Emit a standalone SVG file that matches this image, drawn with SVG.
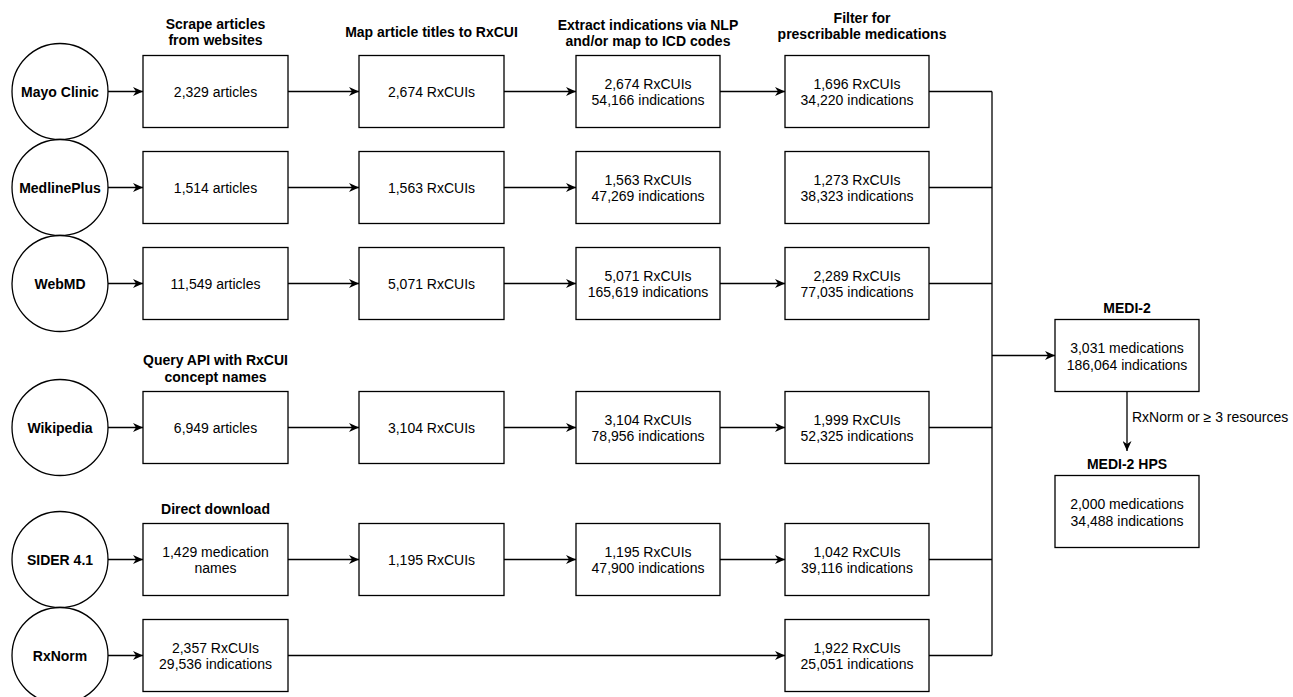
<svg xmlns="http://www.w3.org/2000/svg" width="1293" height="697" viewBox="0 0 1293 697">
<style>
text{font-family:"Liberation Sans",Arial,sans-serif;font-size:14px;fill:#000;text-anchor:middle;dominant-baseline:central}
.b{font-weight:bold}
.box{fill:#fff;stroke:#000;stroke-width:1.3}
.src{fill:#fff;stroke:#000;stroke-width:1.3}
.ln{fill:none;stroke:#000;stroke-width:1.3}
.ar{fill:none;stroke:#000;stroke-width:1.3;marker-end:url(#ah)}
</style>
<defs>
<marker id="ah" markerWidth="11" markerHeight="9" refX="10" refY="4.5" orient="auto" markerUnits="userSpaceOnUse">
<path d="M0,0 L10,4.5 L0,9 L3,4.5 Z" fill="#000"/>
</marker>
</defs>
<rect width="1293" height="697" fill="#fff"/>

<g id="headers">
<text class="b" x="215.5" y="24">Scrape articles</text>
<text class="b" x="215.5" y="40">from websites</text>
<text class="b" x="431.5" y="32">Map article titles to RxCUI</text>
<text class="b" x="648" y="25">Extract indications via NLP</text>
<text class="b" x="648" y="41">and/or map to ICD codes</text>
<text class="b" x="862" y="18">Filter for</text>
<text class="b" x="862" y="34">prescribable medications</text>
<text class="b" x="215.5" y="360">Query API with RxCUI</text>
<text class="b" x="215.5" y="377">concept names</text>
<text class="b" x="215.5" y="509">Direct download</text>
</g>

<g id="connectors">
<!-- source to col1 -->
<line class="ar" x1="108" y1="91.5" x2="143" y2="91.5"/>
<line class="ar" x1="108" y1="187.5" x2="143" y2="187.5"/>
<line class="ar" x1="108" y1="283.5" x2="143" y2="283.5"/>
<line class="ar" x1="108" y1="427.5" x2="143" y2="427.5"/>
<line class="ar" x1="108" y1="559.5" x2="143" y2="559.5"/>
<line class="ar" x1="108" y1="655.5" x2="143" y2="655.5"/>
<!-- col1 to col2 -->
<line class="ar" x1="288" y1="91.5" x2="359" y2="91.5"/>
<line class="ar" x1="288" y1="187.5" x2="359" y2="187.5"/>
<line class="ar" x1="288" y1="283.5" x2="359" y2="283.5"/>
<line class="ar" x1="288" y1="427.5" x2="359" y2="427.5"/>
<line class="ar" x1="288" y1="559.5" x2="359" y2="559.5"/>
<!-- col2 to col3 -->
<line class="ar" x1="504" y1="91.5" x2="576" y2="91.5"/>
<line class="ar" x1="504" y1="187.5" x2="576" y2="187.5"/>
<line class="ar" x1="504" y1="283.5" x2="576" y2="283.5"/>
<line class="ar" x1="504" y1="427.5" x2="576" y2="427.5"/>
<line class="ar" x1="504" y1="559.5" x2="576" y2="559.5"/>
<!-- col3 to col4 -->
<line class="ar" x1="720" y1="91.5" x2="785" y2="91.5"/>
<line class="ar" x1="720" y1="283.5" x2="785" y2="283.5"/>
<line class="ar" x1="720" y1="427.5" x2="785" y2="427.5"/>
<line class="ar" x1="720" y1="559.5" x2="785" y2="559.5"/>
<!-- RxNorm -->
<line class="ar" x1="288" y1="655.5" x2="785" y2="655.5"/>
<!-- bus -->
<line class="ln" x1="929" y1="91.5" x2="992" y2="91.5"/>
<line class="ln" x1="929" y1="187.5" x2="992" y2="187.5"/>
<line class="ln" x1="929" y1="283.5" x2="992" y2="283.5"/>
<line class="ln" x1="929" y1="427.5" x2="992" y2="427.5"/>
<line class="ln" x1="929" y1="559.5" x2="992" y2="559.5"/>
<line class="ln" x1="929" y1="655.5" x2="992" y2="655.5"/>
<line class="ln" x1="992" y1="91.5" x2="992" y2="655.5"/>
<line class="ar" x1="992" y1="355.5" x2="1055" y2="355.5"/>
<line class="ar" x1="1127" y1="391.5" x2="1127" y2="451"/>
<text x="1132" y="417" style="text-anchor:start">RxNorm or ≥ 3 resources</text>
</g>

<g id="src-mayo"><circle class="src" cx="60" cy="91.5" r="48"/><text class="b" x="60" y="91.5">Mayo Clinic</text></g>
<g id="src-medline"><circle class="src" cx="60" cy="187.5" r="48"/><text class="b" x="60" y="187.5">MedlinePlus</text></g>
<g id="src-webmd"><circle class="src" cx="60" cy="283.5" r="48"/><text class="b" x="60" y="283.5">WebMD</text></g>
<g id="src-wiki"><circle class="src" cx="60" cy="427.5" r="48"/><text class="b" x="60" y="427.5">Wikipedia</text></g>
<g id="src-sider"><circle class="src" cx="60" cy="559.5" r="48"/><text class="b" x="60" y="559.5">SIDER 4.1</text></g>
<g id="src-rxnorm"><circle class="src" cx="60" cy="655.5" r="48"/><text class="b" x="60" y="655.5">RxNorm</text></g>

<!-- column 1 -->
<g id="mayo-c1"><rect class="box" x="143" y="55.5" width="145" height="72"/><text x="215.5" y="91.5">2,329 articles</text></g>
<g id="medline-c1"><rect class="box" x="143" y="151.5" width="145" height="72"/><text x="215.5" y="187.5">1,514 articles</text></g>
<g id="webmd-c1"><rect class="box" x="143" y="247.5" width="145" height="72"/><text x="215.5" y="283.5">11,549 articles</text></g>
<g id="wiki-c1"><rect class="box" x="143" y="391.5" width="145" height="72"/><text x="215.5" y="427.5">6,949 articles</text></g>
<g id="sider-c1"><rect class="box" x="143" y="523.5" width="145" height="72"/><text x="215.5" y="551.5">1,429 medication</text><text x="215.5" y="568">names</text></g>
<g id="rxnorm-c1"><rect class="box" x="143" y="619.5" width="145" height="72"/><text x="215.5" y="647.5">2,357 RxCUIs</text><text x="215.5" y="664">29,536 indications</text></g>

<!-- column 2 -->
<g id="mayo-c2"><rect class="box" x="359" y="55.5" width="145" height="72"/><text x="431.5" y="91.5">2,674 RxCUIs</text></g>
<g id="medline-c2"><rect class="box" x="359" y="151.5" width="145" height="72"/><text x="431.5" y="187.5">1,563 RxCUIs</text></g>
<g id="webmd-c2"><rect class="box" x="359" y="247.5" width="145" height="72"/><text x="431.5" y="283.5">5,071 RxCUIs</text></g>
<g id="wiki-c2"><rect class="box" x="359" y="391.5" width="145" height="72"/><text x="431.5" y="427.5">3,104 RxCUIs</text></g>
<g id="sider-c2"><rect class="box" x="359" y="523.5" width="145" height="72"/><text x="431.5" y="559.5">1,195 RxCUIs</text></g>

<!-- column 3 -->
<g id="mayo-c3"><rect class="box" x="576" y="55.5" width="144" height="72"/><text x="648" y="83.5">2,674 RxCUIs</text><text x="648" y="100">54,166 indications</text></g>
<g id="medline-c3"><rect class="box" x="576" y="151.5" width="144" height="72"/><text x="648" y="179.5">1,563 RxCUIs</text><text x="648" y="196">47,269 indications</text></g>
<g id="webmd-c3"><rect class="box" x="576" y="247.5" width="144" height="72"/><text x="648" y="275.5">5,071 RxCUIs</text><text x="648" y="292">165,619 indications</text></g>
<g id="wiki-c3"><rect class="box" x="576" y="391.5" width="144" height="72"/><text x="648" y="419.5">3,104 RxCUIs</text><text x="648" y="436">78,956 indications</text></g>
<g id="sider-c3"><rect class="box" x="576" y="523.5" width="144" height="72"/><text x="648" y="551.5">1,195 RxCUIs</text><text x="648" y="568">47,900 indications</text></g>

<!-- column 4 -->
<g id="mayo-c4"><rect class="box" x="785" y="55.5" width="144" height="72"/><text x="857" y="83.5">1,696 RxCUIs</text><text x="857" y="100">34,220 indications</text></g>
<g id="medline-c4"><rect class="box" x="785" y="151.5" width="144" height="72"/><text x="857" y="179.5">1,273 RxCUIs</text><text x="857" y="196">38,323 indications</text></g>
<g id="webmd-c4"><rect class="box" x="785" y="247.5" width="144" height="72"/><text x="857" y="275.5">2,289 RxCUIs</text><text x="857" y="292">77,035 indications</text></g>
<g id="wiki-c4"><rect class="box" x="785" y="391.5" width="144" height="72"/><text x="857" y="419.5">1,999 RxCUIs</text><text x="857" y="436">52,325 indications</text></g>
<g id="sider-c4"><rect class="box" x="785" y="523.5" width="144" height="72"/><text x="857" y="551.5">1,042 RxCUIs</text><text x="857" y="568">39,116 indications</text></g>
<g id="rxnorm-c4"><rect class="box" x="785" y="619.5" width="144" height="72"/><text x="857" y="647.5">1,922 RxCUIs</text><text x="857" y="664">25,051 indications</text></g>

<g id="medi2"><text class="b" x="1127" y="308">MEDI-2</text><rect class="box" x="1055" y="319.5" width="144" height="72"/><text x="1127" y="348">3,031 medications</text><text x="1127" y="364.5">186,064 indications</text></g>
<g id="medi2hps"><text class="b" x="1127" y="464">MEDI-2 HPS</text><rect class="box" x="1055" y="475.5" width="144" height="72"/><text x="1127" y="504">2,000 medications</text><text x="1127" y="520.5">34,488 indications</text></g>
</svg>
